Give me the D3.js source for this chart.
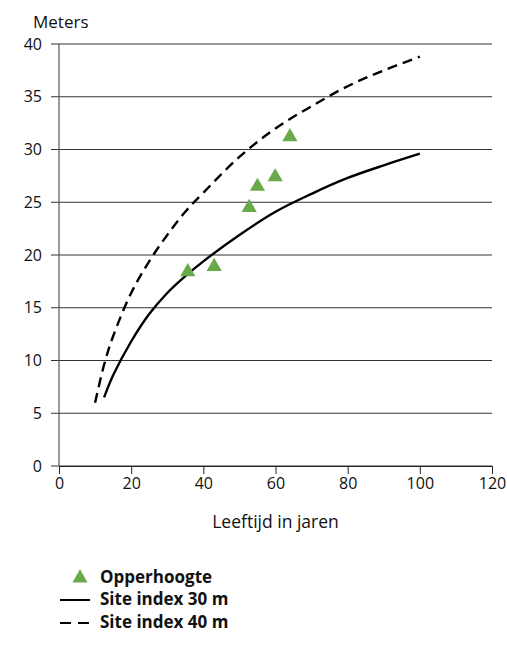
<!DOCTYPE HTML>
<html>
<head>
    <title>Opperhoogte</title>
    <script src="https://d3js.org/d3.v7.min.js"></script>
    <style>
        body { margin: 0; background: #fff; }
        text { font-family: "Open Sans", "Noto Sans", sans-serif; fill: #111; }
    </style>
</head>
<body>
<div class="chart"></div>
<script type="text/javascript">
    // data
    var ages30 = [12.5, 15, 20, 25, 30, 35, 40, 50, 60, 70, 80, 90, 100];
    var site30 = [6.5, 8.6, 11.8, 14.4, 16.4, 18.0, 19.4, 21.9, 24.1, 25.8, 27.3, 28.5, 29.6];
    var ages40 = [10, 12.5, 15, 20, 25, 30, 35, 40, 50, 60, 70, 80, 90, 100];
    var site40 = [6.0, 9.6, 12.3, 16.4, 19.4, 21.9, 24.1, 25.9, 29.3, 32.0, 34.1, 36.0, 37.5, 38.8];
    var obsAge = [35.7, 43, 52.7, 55, 59.9, 64];
    var obsHeight = [18.4, 18.9, 24.5, 26.5, 27.4, 31.2];
    var xTicks = [0, 20, 40, 60, 80, 100, 120];
    var yTicks = [0, 5, 10, 15, 20, 25, 30, 35, 40];
    var legendLabels = ["Opperhoogte", "Site index 30 m", "Site index 40 m"];

    var margin = { top: 44, right: 15, bottom: 179, left: 59 },
        width = 507 - margin.left - margin.right,
        height = 645 - margin.top - margin.bottom;

    var svg = d3.select(".chart").append("svg")
        .attr("width", 507)
        .attr("height", 645);

    var g = svg.append("g")
        .attr("transform", "translate(" + margin.left + "," + margin.top + ")");

    var x = d3.scaleLinear().domain([0, 120]).range([0, width]);
    var y = d3.scaleLinear().domain([0, 40]).range([height, 0]);

    // horizontal grid lines, reaching a bit left of the axis
    g.selectAll(".grid").data(yTicks).enter().append("line")
        .attr("x1", -8).attr("x2", width)
        .attr("y1", function(d) { return y(d); })
        .attr("y2", function(d) { return y(d); })
        .attr("stroke", "#333").attr("stroke-width", 1);

    g.selectAll(".ylab").data(yTicks).enter().append("text")
        .attr("x", -17)
        .attr("y", function(d) { return y(d); })
        .attr("dy", "0.35em")
        .attr("text-anchor", "end")
        .attr("font-size", 16)
        .text(function(d) { return d; });

    // y axis line
    g.append("line")
        .attr("x1", 0).attr("x2", 0).attr("y1", 0).attr("y2", height)
        .attr("stroke", "#555").attr("stroke-width", 1.2);

    // x axis
    var xAxis = d3.axisBottom(x).tickValues(xTicks).tickSize(8).tickSizeOuter(0);
    var xg = g.append("g").attr("transform", "translate(0," + height + ")").call(xAxis);
    xg.select(".domain").attr("stroke", "#222");
    xg.selectAll(".tick line").attr("stroke", "#222");
    xg.selectAll(".tick text").attr("font-size", 16).attr("y", 12)
        .style("font-family", "'Open Sans', sans-serif").attr("fill", "#111");

    g.append("text")
        .attr("x", x(60)).attr("y", height + 62)
        .attr("text-anchor", "middle").attr("font-size", 17.5)
        .text("Leeftijd in jaren");

    svg.append("text")
        .attr("x", 33).attr("y", 28)
        .attr("font-size", 17)
        .text("Meters");

    var line = d3.line()
        .x(function(d) { return x(d[0]); })
        .y(function(d) { return y(d[1]); })
        .curve(d3.curveCatmullRom);

    g.append("path")
        .attr("d", line(d3.zip(ages40, site40)))
        .attr("fill", "none").attr("stroke", "#000")
        .attr("stroke-width", 2.4).attr("stroke-dasharray", "10,6");

    g.append("path")
        .attr("d", line(d3.zip(ages30, site30)))
        .attr("fill", "none").attr("stroke", "#000")
        .attr("stroke-width", 2.4);

    var tri = d3.symbol().type(d3.symbolTriangle).size(100);
    var green = "#6aa94a";

    g.selectAll(".obs").data(d3.zip(obsAge, obsHeight)).enter().append("path")
        .attr("d", tri)
        .attr("transform", function(d) { return "translate(" + x(d[0]) + "," + y(d[1]) + ")"; })
        .attr("fill", green);

    // legend
    var leg = svg.append("g").attr("transform", "translate(0,577)");
    leg.append("path").attr("d", tri)
        .attr("transform", "translate(80,1)").attr("fill", green);
    leg.append("line").attr("x1", 60).attr("x2", 90).attr("y1", 23).attr("y2", 23)
        .attr("stroke", "#000").attr("stroke-width", 2);
    leg.append("line").attr("x1", 60).attr("x2", 92).attr("y1", 46).attr("y2", 46)
        .attr("stroke", "#000").attr("stroke-width", 2).attr("stroke-dasharray", "11,7");
    leg.selectAll(".ltext").data(legendLabels).enter().append("text")
        .attr("x", 100)
        .attr("y", function(d, i) { return i * 22.5; })
        .attr("dy", "0.35em")
        .attr("font-size", 17)
        .attr("font-weight", "bold")
        .text(function(d) { return d; });
</script>
</body>
</html>
